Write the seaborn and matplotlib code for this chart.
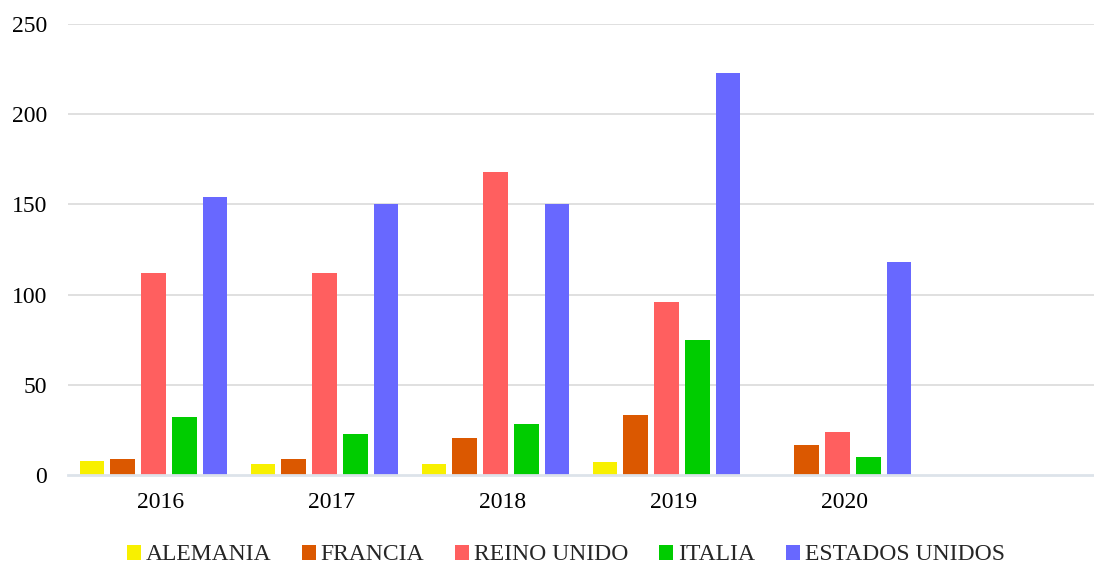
import matplotlib
matplotlib.use("Agg")
import matplotlib.pyplot as plt
import matplotlib.transforms as mtransforms
import seaborn as sns
import pandas as pd

years = ["2016", "2017", "2018", "2019", "2020"]
slots = years + [""]
countries = ["ALEMANIA", "FRANCIA", "REINO UNIDO", "ITALIA", "ESTADOS UNIDOS"]
alemania = [8, 6, 6, 7, 0]
francia = [9, 9, 20.5, 33.5, 16.5]
reino_unido = [112, 112, 168, 96, 24]
italia = [32, 22.5, 28.5, 75, 10]
estados_unidos = [154, 150, 150, 223, 118]
colors = ["#F8F000", "#DB5800", "#FF5F5F", "#00CC00", "#6868FF"]
yticks = [0, 50, 100, 150, 200, 250]

series = [alemania, francia, reino_unido, italia, estados_unidos]
rows = []
for c, vals in zip(countries, series):
    for y, v in zip(years, vals):
        rows.append({"year": y, "country": c, "value": v})
df = pd.DataFrame(rows)

sns.set_theme(style="white")
plt.rcParams["font.family"] = ["Liberation Serif", "DejaVu Serif"]

fig = plt.figure(figsize=(10.94, 5.65), dpi=100)
ax = fig.add_axes([68 / 1094, 1 - 475 / 565, 1 - 68 / 1094, (475 - 24) / 565])

sns.barplot(data=df, x="year", y="value", hue="country", order=slots,
            hue_order=countries, palette=colors, width=0.9, gap=0.2,
            linewidth=0, saturation=1, ax=ax, legend=True)

ax.set_ylim(0, 250)
ax.set_xlim(-0.5, 5.5)
ax.set_yticks(yticks)
ax.set_yticklabels([str(t) for t in yticks])
ax.set_xlabel("")
ax.set_ylabel("")
for t in yticks[1:]:
    ax.axhline(t, color="#dadada", linewidth=1.2, zorder=0)
ax.set_axisbelow(True)
for s in ["top", "right", "left"]:
    ax.spines[s].set_visible(False)
ax.spines["bottom"].set_color("#dde3ea")
ax.spines["bottom"].set_linewidth(2)
ax.tick_params(axis="both", length=0, labelsize=17, colors="black")
ax.tick_params(axis="y", pad=15)
ax.tick_params(axis="x", pad=12)
offset = mtransforms.ScaledTranslation(7 / 100, 0, fig.dpi_scale_trans)
for lab in ax.get_xticklabels():
    lab.set_transform(lab.get_transform() + offset)

handles, labels = ax.get_legend_handles_labels()
ax.get_legend().remove()
fig.legend(handles, labels, loc="center", bbox_to_anchor=(0.517, 0.018),
           ncol=5, frameon=False, fontsize=17, handlelength=0.6,
           handleheight=0.6, handletextpad=0.2, columnspacing=1.3)

fig.savefig("out.png", dpi=100)
